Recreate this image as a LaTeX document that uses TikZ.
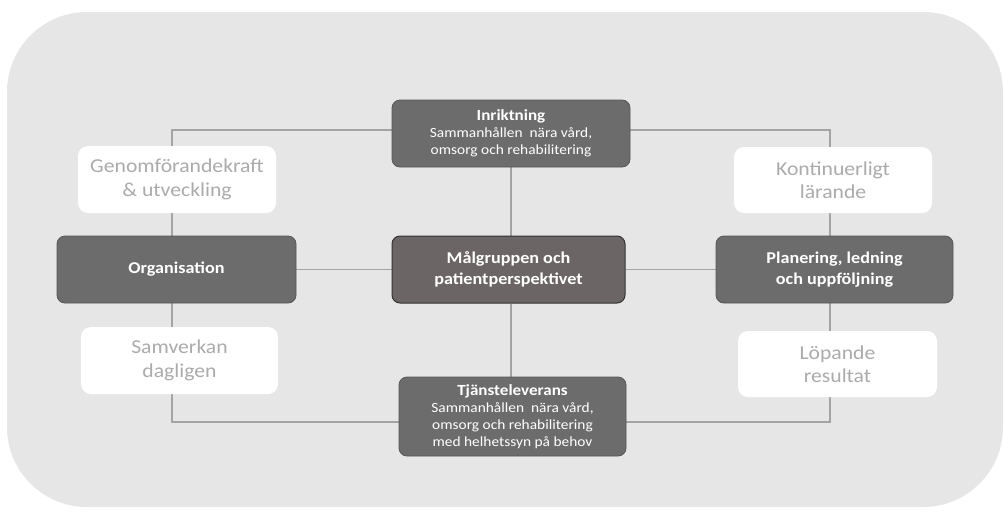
\documentclass[tikz,border=0pt]{standalone}
\usepackage{fontspec}
\setmainfont{Carlito}[FakeStretch=1.1]
\usetikzlibrary{backgrounds}
\definecolor{bg}{HTML}{E6E6E6}
\definecolor{darkbox}{HTML}{6C6C6C}
\definecolor{ctrbox}{HTML}{6B6665}
\definecolor{conncol}{HTML}{A4A4A4}
\definecolor{softtext}{HTML}{ABABAB}
\newcommand{\ttlfont}{\fontsize{15.5}{17}\selectfont\bfseries}
\newcommand{\subfont}{\fontsize{14}{17}\selectfont}
\begin{document}
\begin{tikzpicture}[x=1pt,y=-1pt,
  darkstyle/.style={draw=darkbox!80!black, line width=0.8pt, fill=darkbox, rounded corners=8pt, text=white, align=center, inner sep=0pt},
  ctrstyle/.style={draw=black!80, line width=1pt, fill=ctrbox, rounded corners=8pt, text=white, align=center, inner sep=0pt},
  softbox/.style={fill=white, rounded corners=10pt, text=softtext, align=center, inner sep=0pt, font=\fontsize{19.7}{23.5}\selectfont},
  boldtxt/.style={font=\fontsize{16.5}{20.5}\selectfont\bfseries},
  conn/.style={draw=conncol, line width=1.8pt}
]
\useasboundingbox (0,0) rectangle (1004,517);

% nodes
\node[darkstyle, minimum width=238pt, minimum height=67pt, font=\subfont] (inr) at (511,133.5)
  {{\ttlfont Inriktning}\\ Sammanhållen\ \ nära vård,\\ omsorg och rehabilitering};
\node[ctrstyle, boldtxt, minimum width=233pt, minimum height=67pt] (ctr) at (508.5,269.5)
  {Målgruppen och\\ patientperspektivet};
\node[darkstyle, minimum width=227pt, minimum height=79pt, font=\subfont] (tj) at (512.5,416.5)
  {{\ttlfont Tjänsteleverans}\\ Sammanhållen\ \ nära vård,\\ omsorg och rehabilitering\\ med helhetssyn på behov};
\node[darkstyle, boldtxt, minimum width=239pt, minimum height=67pt] (org) at (176.5,269.5) {Organisation};
\node[darkstyle, boldtxt, minimum width=237pt, minimum height=67pt] (pla) at (834.5,269.5) {Planering, ledning\\ och uppföljning};
\node[softbox, minimum width=198pt, minimum height=67pt] (gen) at (177,179.5) {Genomförandekraft\\ \& utveckling};
\node[softbox, minimum width=197pt, minimum height=67pt] (sam) at (179.5,360.5) {Samverkan\\ dagligen};
\node[softbox, minimum width=198pt, minimum height=66pt] (kon) at (833,180) {Kontinuerligt\\ lärande};
\node[softbox, minimum width=199pt, minimum height=66pt] (lop) at (837.5,364) {Löpande\\ resultat};

\coordinate (tl) at (172,130);
\coordinate (tr) at (830,130);
\coordinate (bl) at (172,422);
\coordinate (br) at (830,422);

\begin{scope}[on background layer]
\fill[bg, rounded corners=80pt] (7,12) rectangle (1003,507);
\draw[conn] (inr.west |- tl) -- (tl) -- (gen.north -| tl);
\draw[conn] (gen.south -| tl) -- (org.north -| tl);
\draw[conn] (org.south -| tl) -- (sam.north -| tl);
\draw[conn] (sam.south -| tl) -- (bl) -- (tj.west |- bl);
\draw[conn] (inr.east |- tr) -- (tr) -- (kon.north -| tr);
\draw[conn] (kon.south -| tr) -- (pla.north -| tr);
\draw[conn] (pla.south -| tr) -- (lop.north -| tr);
\draw[conn] (lop.south -| tr) -- (br) -- (tj.east |- br);
\draw[conn] (inr.south) -- (ctr.north -| inr.south);
\draw[conn] (ctr.south -| inr.south) -- (tj.north -| inr.south);
\draw[conn] (org.east) -- (ctr.west);
\draw[conn] (ctr.east) -- (pla.west);
\end{scope}
\end{tikzpicture}
\end{document}
